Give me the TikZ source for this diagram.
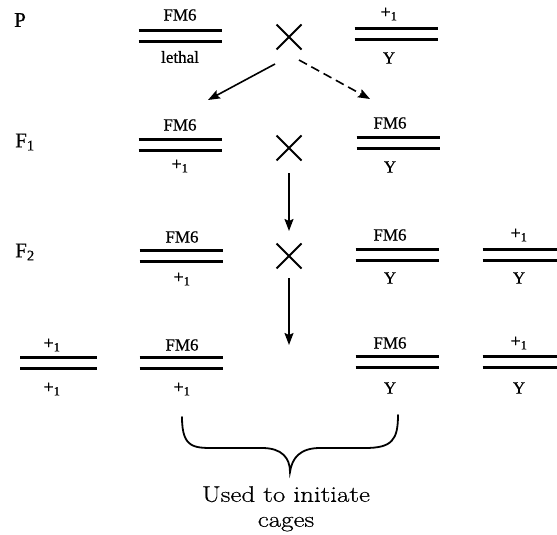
\documentclass[tikz,border=0pt]{standalone}
\usepackage{fontspec}
\newfontfamily\tms[FakeBold=0.6]{Liberation Serif}
\newfontfamily\lmwide[FakeStretch=1.2,FakeBold=0.6]{Latin Modern Roman}
\usetikzlibrary{arrows.meta,shapes.misc}
\newcommand{\plusonelab}{{\fontsize{18}{20}\selectfont+\textsubscript{1}}}
\begin{document}
\begin{tikzpicture}[x=1pt,y=-1pt,
  chrom/.style={draw, line width=2.1pt, -},
  pairbox/.style={minimum width=83pt, minimum height=11pt, inner sep=0pt, outer sep=0pt,
    append after command={(\tikzlastnode.north west) edge[chrom] (\tikzlastnode.north east)
      (\tikzlastnode.south west) edge[chrom] (\tikzlastnode.south east)}},
  lab/.style={font=\tms\fontsize{17}{20}\selectfont, inner sep=0pt},
  gen/.style={font=\tms\fontsize{21}{24}\selectfont, inner sep=0pt},
  crossmark/.style={cross out, draw, line width=2pt, minimum size=23pt, inner sep=0pt},
  arr/.style={line width=1.6pt, -{Stealth[length=12pt,width=9pt,inset=2pt]}},
  dasharr/.style={arr, dash pattern=on 9pt off 5pt},
  bracestyle/.style={line width=1.8pt, line cap=round},
  note/.style={font=\lmwide\fontsize{22.5}{25}\selectfont, align=center, inner sep=0pt}
]
\useasboundingbox (0,0) rectangle (557,535);
% generation labels
\node[gen] (gP) at (20,20) {P};
\node[gen] (gF1) at (25,142) {F\textsubscript{1}};
\node[gen] (gF2) at (25,252) {F\textsubscript{2}};
% P row
\node[pairbox] (pL) at (180,36) {};
\node[lab] (pLt) at (180,15) {FM6};
\node[lab] (pLb) at (180,57) {lethal};
\node[crossmark] (xP) at (289,37) {};
\node[pairbox] (pR) at (396,34) {};
\node[lab] (pRt) at (389,14) {\plusonelab};
\node[lab] (pRb) at (389,58) {Y};
% F1 row
\node[pairbox] (fL) at (180,145) {};
\node[lab] (fLt) at (180,125) {FM6};
\node[lab] (fLb) at (180,166) {\plusonelab};
\node[crossmark] (xF1) at (289,148) {};
\node[pairbox] (fR) at (398,143) {};
\node[lab] (fRt) at (390,123) {FM6};
\node[lab] (fRb) at (390,167) {Y};
% F2 row
\node[pairbox] (sL) at (181,256) {};
\node[lab] (sLt) at (182,237) {FM6};
\node[lab] (sLb) at (182,279) {\plusonelab};
\node[crossmark] (xF2) at (289,256) {};
\node[pairbox] (sR) at (397,255) {};
\node[lab] (sRt) at (390,235) {FM6};
\node[lab] (sRb) at (390,278) {Y};
\node[pairbox] (sF) at (524,255) {};
\node[lab] (sFt) at (519,235) {\plusonelab};
\node[lab] (sFb) at (519,278) {Y};
% bottom row
\node[pairbox, minimum width=77pt] (b1) at (58.5,363) {};
\node[lab] (b1t) at (52,345) {\plusonelab};
\node[lab] (b1b) at (52,389) {\plusonelab};
\node[pairbox] (b2) at (181,363) {};
\node[lab] (b2t) at (182,345) {FM6};
\node[lab] (b2b) at (182,389) {\plusonelab};
\node[pairbox] (b3) at (397,362) {};
\node[lab] (b3t) at (390,343) {FM6};
\node[lab] (b3b) at (390,388) {Y};
\node[pairbox] (b4) at (524,362) {};
\node[lab] (b4t) at (519,343) {\plusonelab};
\node[lab] (b4b) at (519,388) {Y};
% arrows
\coordinate (a1s) at (275,64);
\coordinate (a1e) at (208,100);
\coordinate (a2s) at (299,60);
\coordinate (a2e) at (370,99);
\coordinate (a4e) at (289,345);
\draw[arr] (a1s) -- (a1e);
\draw[dasharr] (a2s) -- (a2e);
\draw[arr, shorten <=12.5pt, shorten >=12.5pt] (xF1) -- (xF2);
\draw[arr, shorten <=9.5pt] (xF2) -- (a4e);
% brace
\coordinate (brL) at (182,417);
\coordinate (brR) at (398,415);
\coordinate (brT) at (290,472);
\draw[bracestyle] (brL) .. controls (182,450) and (195,448) .. (220,448) -- (262,448)
  .. controls (282,448) and (290,458) .. (brT)
  .. controls (292,458) and (300,448) .. (320,448) -- (365,448)
  .. controls (392,448) and (398,440) .. (brR);
\node[note, anchor=north] (txt) at (286,486) {Used to initiate\\cages};
\end{tikzpicture}
\end{document}
